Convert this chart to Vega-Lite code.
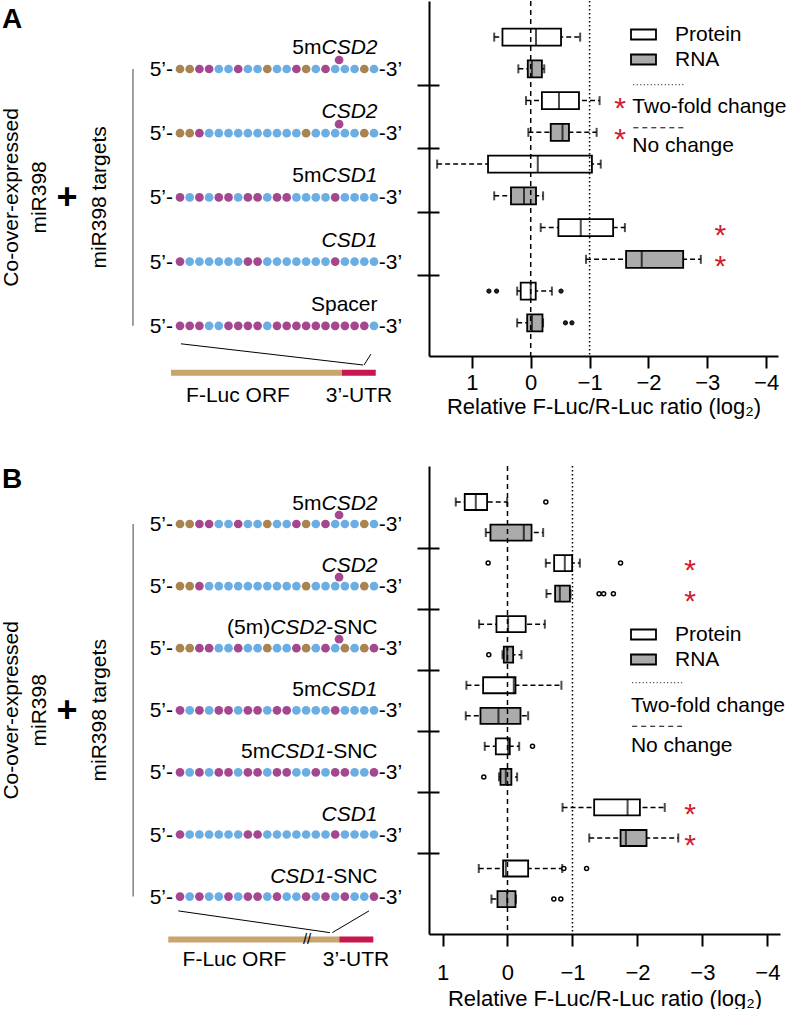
{
"$schema":"https://vega.github.io/schema/vega-lite/v6.json",
"padding":0,
"bounds":"flush",
"columns":2,
"spacing":{"row":110,"column":0},
"resolve":{"scale":{"fill":"independent","color":"independent"},"legend":{"fill":"independent","color":"independent"}},
"config":{"view":{"stroke":null},"font":"Liberation Sans",
 "text":{"font":"Liberation Sans","fontSize":21,"color":"black","baseline":"alphabetic"},
 "axis":{"domainColor":"black","tickColor":"black","labelColor":"black","titleColor":"black","grid":false,"domainWidth":2,"tickWidth":2,"labelFont":"Liberation Sans","titleFont":"Liberation Sans","titleFontWeight":"normal"}},
"datasets":{
"seq":[
{"p":"A","g":0,"i":0,"n":"T"},{"p":"A","g":0,"i":1,"n":"T"},{"p":"A","g":0,"i":2,"n":"M"},{"p":"A","g":0,"i":3,"n":"M"},{"p":"A","g":0,"i":4,"n":"B"},{"p":"A","g":0,"i":5,"n":"B"},{"p":"A","g":0,"i":6,"n":"M"},{"p":"A","g":0,"i":7,"n":"B"},{"p":"A","g":0,"i":8,"n":"B"},{"p":"A","g":0,"i":9,"n":"T"},{"p":"A","g":0,"i":10,"n":"B"},{"p":"A","g":0,"i":11,"n":"B"},{"p":"A","g":0,"i":12,"n":"M"},{"p":"A","g":0,"i":13,"n":"T"},{"p":"A","g":0,"i":14,"n":"B"},{"p":"A","g":0,"i":15,"n":"M"},{"p":"A","g":0,"i":16,"n":"B"},{"p":"A","g":0,"i":17,"n":"B"},{"p":"A","g":0,"i":18,"n":"B"},{"p":"A","g":0,"i":19,"n":"T"},{"p":"A","g":0,"i":20,"n":"B"},
{"p":"A","g":1,"i":0,"n":"T"},{"p":"A","g":1,"i":1,"n":"T"},{"p":"A","g":1,"i":2,"n":"M"},{"p":"A","g":1,"i":3,"n":"B"},{"p":"A","g":1,"i":4,"n":"B"},{"p":"A","g":1,"i":5,"n":"B"},{"p":"A","g":1,"i":6,"n":"B"},{"p":"A","g":1,"i":7,"n":"B"},{"p":"A","g":1,"i":8,"n":"B"},{"p":"A","g":1,"i":9,"n":"B"},{"p":"A","g":1,"i":10,"n":"B"},{"p":"A","g":1,"i":11,"n":"B"},{"p":"A","g":1,"i":12,"n":"B"},{"p":"A","g":1,"i":13,"n":"T"},{"p":"A","g":1,"i":14,"n":"B"},{"p":"A","g":1,"i":15,"n":"B"},{"p":"A","g":1,"i":16,"n":"B"},{"p":"A","g":1,"i":17,"n":"B"},{"p":"A","g":1,"i":18,"n":"B"},{"p":"A","g":1,"i":19,"n":"T"},{"p":"A","g":1,"i":20,"n":"B"},
{"p":"A","g":2,"i":0,"n":"M"},{"p":"A","g":2,"i":1,"n":"B"},{"p":"A","g":2,"i":2,"n":"M"},{"p":"A","g":2,"i":3,"n":"B"},{"p":"A","g":2,"i":4,"n":"M"},{"p":"A","g":2,"i":5,"n":"M"},{"p":"A","g":2,"i":6,"n":"B"},{"p":"A","g":2,"i":7,"n":"M"},{"p":"A","g":2,"i":8,"n":"M"},{"p":"A","g":2,"i":9,"n":"B"},{"p":"A","g":2,"i":10,"n":"M"},{"p":"A","g":2,"i":11,"n":"M"},{"p":"A","g":2,"i":12,"n":"B"},{"p":"A","g":2,"i":13,"n":"B"},{"p":"A","g":2,"i":14,"n":"B"},{"p":"A","g":2,"i":15,"n":"B"},{"p":"A","g":2,"i":16,"n":"M"},{"p":"A","g":2,"i":17,"n":"B"},{"p":"A","g":2,"i":18,"n":"B"},{"p":"A","g":2,"i":19,"n":"B"},{"p":"A","g":2,"i":20,"n":"B"},
{"p":"A","g":3,"i":0,"n":"M"},{"p":"A","g":3,"i":1,"n":"B"},{"p":"A","g":3,"i":2,"n":"B"},{"p":"A","g":3,"i":3,"n":"B"},{"p":"A","g":3,"i":4,"n":"B"},{"p":"A","g":3,"i":5,"n":"B"},{"p":"A","g":3,"i":6,"n":"B"},{"p":"A","g":3,"i":7,"n":"M"},{"p":"A","g":3,"i":8,"n":"M"},{"p":"A","g":3,"i":9,"n":"B"},{"p":"A","g":3,"i":10,"n":"B"},{"p":"A","g":3,"i":11,"n":"B"},{"p":"A","g":3,"i":12,"n":"B"},{"p":"A","g":3,"i":13,"n":"B"},{"p":"A","g":3,"i":14,"n":"B"},{"p":"A","g":3,"i":15,"n":"B"},{"p":"A","g":3,"i":16,"n":"M"},{"p":"A","g":3,"i":17,"n":"B"},{"p":"A","g":3,"i":18,"n":"B"},{"p":"A","g":3,"i":19,"n":"B"},{"p":"A","g":3,"i":20,"n":"B"},
{"p":"A","g":4,"i":0,"n":"M"},{"p":"A","g":4,"i":1,"n":"M"},{"p":"A","g":4,"i":2,"n":"M"},{"p":"A","g":4,"i":3,"n":"B"},{"p":"A","g":4,"i":4,"n":"B"},{"p":"A","g":4,"i":5,"n":"M"},{"p":"A","g":4,"i":6,"n":"M"},{"p":"A","g":4,"i":7,"n":"M"},{"p":"A","g":4,"i":8,"n":"M"},{"p":"A","g":4,"i":9,"n":"B"},{"p":"A","g":4,"i":10,"n":"M"},{"p":"A","g":4,"i":11,"n":"M"},{"p":"A","g":4,"i":12,"n":"M"},{"p":"A","g":4,"i":13,"n":"M"},{"p":"A","g":4,"i":14,"n":"M"},{"p":"A","g":4,"i":15,"n":"M"},{"p":"A","g":4,"i":16,"n":"M"},{"p":"A","g":4,"i":17,"n":"M"},{"p":"A","g":4,"i":18,"n":"M"},{"p":"A","g":4,"i":19,"n":"M"},{"p":"A","g":4,"i":20,"n":"B"},
{"p":"B","g":0,"i":0,"n":"T"},{"p":"B","g":0,"i":1,"n":"T"},{"p":"B","g":0,"i":2,"n":"M"},{"p":"B","g":0,"i":3,"n":"M"},{"p":"B","g":0,"i":4,"n":"B"},{"p":"B","g":0,"i":5,"n":"B"},{"p":"B","g":0,"i":6,"n":"M"},{"p":"B","g":0,"i":7,"n":"B"},{"p":"B","g":0,"i":8,"n":"B"},{"p":"B","g":0,"i":9,"n":"T"},{"p":"B","g":0,"i":10,"n":"B"},{"p":"B","g":0,"i":11,"n":"B"},{"p":"B","g":0,"i":12,"n":"M"},{"p":"B","g":0,"i":13,"n":"T"},{"p":"B","g":0,"i":14,"n":"B"},{"p":"B","g":0,"i":15,"n":"M"},{"p":"B","g":0,"i":16,"n":"B"},{"p":"B","g":0,"i":17,"n":"B"},{"p":"B","g":0,"i":18,"n":"B"},{"p":"B","g":0,"i":19,"n":"T"},{"p":"B","g":0,"i":20,"n":"B"},
{"p":"B","g":1,"i":0,"n":"T"},{"p":"B","g":1,"i":1,"n":"T"},{"p":"B","g":1,"i":2,"n":"M"},{"p":"B","g":1,"i":3,"n":"B"},{"p":"B","g":1,"i":4,"n":"B"},{"p":"B","g":1,"i":5,"n":"B"},{"p":"B","g":1,"i":6,"n":"B"},{"p":"B","g":1,"i":7,"n":"B"},{"p":"B","g":1,"i":8,"n":"B"},{"p":"B","g":1,"i":9,"n":"B"},{"p":"B","g":1,"i":10,"n":"B"},{"p":"B","g":1,"i":11,"n":"B"},{"p":"B","g":1,"i":12,"n":"B"},{"p":"B","g":1,"i":13,"n":"T"},{"p":"B","g":1,"i":14,"n":"B"},{"p":"B","g":1,"i":15,"n":"B"},{"p":"B","g":1,"i":16,"n":"B"},{"p":"B","g":1,"i":17,"n":"B"},{"p":"B","g":1,"i":18,"n":"B"},{"p":"B","g":1,"i":19,"n":"T"},{"p":"B","g":1,"i":20,"n":"B"},
{"p":"B","g":2,"i":0,"n":"T"},{"p":"B","g":2,"i":1,"n":"T"},{"p":"B","g":2,"i":2,"n":"M"},{"p":"B","g":2,"i":3,"n":"M"},{"p":"B","g":2,"i":4,"n":"B"},{"p":"B","g":2,"i":5,"n":"B"},{"p":"B","g":2,"i":6,"n":"M"},{"p":"B","g":2,"i":7,"n":"B"},{"p":"B","g":2,"i":8,"n":"B"},{"p":"B","g":2,"i":9,"n":"T"},{"p":"B","g":2,"i":10,"n":"B"},{"p":"B","g":2,"i":11,"n":"B"},{"p":"B","g":2,"i":12,"n":"M"},{"p":"B","g":2,"i":13,"n":"T"},{"p":"B","g":2,"i":14,"n":"B"},{"p":"B","g":2,"i":15,"n":"M"},{"p":"B","g":2,"i":16,"n":"B"},{"p":"B","g":2,"i":17,"n":"T"},{"p":"B","g":2,"i":18,"n":"B"},{"p":"B","g":2,"i":19,"n":"T"},{"p":"B","g":2,"i":20,"n":"M"},
{"p":"B","g":3,"i":0,"n":"M"},{"p":"B","g":3,"i":1,"n":"B"},{"p":"B","g":3,"i":2,"n":"M"},{"p":"B","g":3,"i":3,"n":"B"},{"p":"B","g":3,"i":4,"n":"M"},{"p":"B","g":3,"i":5,"n":"M"},{"p":"B","g":3,"i":6,"n":"B"},{"p":"B","g":3,"i":7,"n":"M"},{"p":"B","g":3,"i":8,"n":"M"},{"p":"B","g":3,"i":9,"n":"B"},{"p":"B","g":3,"i":10,"n":"M"},{"p":"B","g":3,"i":11,"n":"M"},{"p":"B","g":3,"i":12,"n":"B"},{"p":"B","g":3,"i":13,"n":"B"},{"p":"B","g":3,"i":14,"n":"B"},{"p":"B","g":3,"i":15,"n":"B"},{"p":"B","g":3,"i":16,"n":"M"},{"p":"B","g":3,"i":17,"n":"B"},{"p":"B","g":3,"i":18,"n":"B"},{"p":"B","g":3,"i":19,"n":"B"},{"p":"B","g":3,"i":20,"n":"B"},
{"p":"B","g":4,"i":0,"n":"M"},{"p":"B","g":4,"i":1,"n":"B"},{"p":"B","g":4,"i":2,"n":"M"},{"p":"B","g":4,"i":3,"n":"B"},{"p":"B","g":4,"i":4,"n":"M"},{"p":"B","g":4,"i":5,"n":"M"},{"p":"B","g":4,"i":6,"n":"B"},{"p":"B","g":4,"i":7,"n":"M"},{"p":"B","g":4,"i":8,"n":"M"},{"p":"B","g":4,"i":9,"n":"B"},{"p":"B","g":4,"i":10,"n":"M"},{"p":"B","g":4,"i":11,"n":"M"},{"p":"B","g":4,"i":12,"n":"B"},{"p":"B","g":4,"i":13,"n":"B"},{"p":"B","g":4,"i":14,"n":"M"},{"p":"B","g":4,"i":15,"n":"B"},{"p":"B","g":4,"i":16,"n":"M"},{"p":"B","g":4,"i":17,"n":"M"},{"p":"B","g":4,"i":18,"n":"B"},{"p":"B","g":4,"i":19,"n":"B"},{"p":"B","g":4,"i":20,"n":"M"},
{"p":"B","g":5,"i":0,"n":"M"},{"p":"B","g":5,"i":1,"n":"B"},{"p":"B","g":5,"i":2,"n":"B"},{"p":"B","g":5,"i":3,"n":"B"},{"p":"B","g":5,"i":4,"n":"B"},{"p":"B","g":5,"i":5,"n":"B"},{"p":"B","g":5,"i":6,"n":"B"},{"p":"B","g":5,"i":7,"n":"M"},{"p":"B","g":5,"i":8,"n":"M"},{"p":"B","g":5,"i":9,"n":"B"},{"p":"B","g":5,"i":10,"n":"B"},{"p":"B","g":5,"i":11,"n":"B"},{"p":"B","g":5,"i":12,"n":"B"},{"p":"B","g":5,"i":13,"n":"B"},{"p":"B","g":5,"i":14,"n":"B"},{"p":"B","g":5,"i":15,"n":"B"},{"p":"B","g":5,"i":16,"n":"M"},{"p":"B","g":5,"i":17,"n":"B"},{"p":"B","g":5,"i":18,"n":"B"},{"p":"B","g":5,"i":19,"n":"B"},{"p":"B","g":5,"i":20,"n":"B"},
{"p":"B","g":6,"i":0,"n":"M"},{"p":"B","g":6,"i":1,"n":"B"},{"p":"B","g":6,"i":2,"n":"M"},{"p":"B","g":6,"i":3,"n":"B"},{"p":"B","g":6,"i":4,"n":"B"},{"p":"B","g":6,"i":5,"n":"M"},{"p":"B","g":6,"i":6,"n":"B"},{"p":"B","g":6,"i":7,"n":"M"},{"p":"B","g":6,"i":8,"n":"M"},{"p":"B","g":6,"i":9,"n":"B"},{"p":"B","g":6,"i":10,"n":"M"},{"p":"B","g":6,"i":11,"n":"B"},{"p":"B","g":6,"i":12,"n":"B"},{"p":"B","g":6,"i":13,"n":"M"},{"p":"B","g":6,"i":14,"n":"B"},{"p":"B","g":6,"i":15,"n":"M"},{"p":"B","g":6,"i":16,"n":"B"},{"p":"B","g":6,"i":17,"n":"M"},{"p":"B","g":6,"i":18,"n":"B"},{"p":"B","g":6,"i":19,"n":"B"},{"p":"B","g":6,"i":20,"n":"M"}
],
"bulge":[{"p":"A","g":0,"i":16.4},{"p":"A","g":1,"i":16.4},{"p":"B","g":0,"i":16.4},{"p":"B","g":1,"i":16.4},{"p":"B","g":2,"i":16.4}],
"constructs":[{"p":"A","g":0,"name":"5mCSD2"},{"p":"A","g":1,"name":"CSD2"},{"p":"A","g":2,"name":"5mCSD1"},{"p":"A","g":3,"name":"CSD1"},{"p":"A","g":4,"name":"Spacer"},
{"p":"B","g":0,"name":"5mCSD2"},{"p":"B","g":1,"name":"CSD2"},{"p":"B","g":2,"name":"(5m)CSD2-SNC"},{"p":"B","g":3,"name":"5mCSD1"},{"p":"B","g":4,"name":"5mCSD1-SNC"},{"p":"B","g":5,"name":"CSD1"},{"p":"B","g":6,"name":"CSD1-SNC"}],
"labels":[
{"p":"A","g":0,"slot":"pre1","text":"5m"},{"p":"A","g":0,"slot":"iend","text":"CSD2"},
{"p":"A","g":1,"slot":"iend","text":"CSD2"},
{"p":"A","g":2,"slot":"pre1","text":"5m"},{"p":"A","g":2,"slot":"iend","text":"CSD1"},
{"p":"A","g":3,"slot":"iend","text":"CSD1"},
{"p":"A","g":4,"slot":"end","text":"Spacer"},
{"p":"B","g":0,"slot":"pre1","text":"5m"},{"p":"B","g":0,"slot":"iend","text":"CSD2"},
{"p":"B","g":1,"slot":"iend","text":"CSD2"},
{"p":"B","g":2,"slot":"pre2","text":"(5m)"},{"p":"B","g":2,"slot":"imid","text":"CSD2"},{"p":"B","g":2,"slot":"end","text":"-SNC"},
{"p":"B","g":3,"slot":"pre1","text":"5m"},{"p":"B","g":3,"slot":"iend","text":"CSD1"},
{"p":"B","g":4,"slot":"pre2","text":"5m"},{"p":"B","g":4,"slot":"imid","text":"CSD1"},{"p":"B","g":4,"slot":"end","text":"-SNC"},
{"p":"B","g":5,"slot":"iend","text":"CSD1"},
{"p":"B","g":6,"slot":"imid","text":"CSD1"},{"p":"B","g":6,"slot":"end","text":"-SNC"}
],
"boxes":[
{"panel":"A","row":0,"target":"5mCSD2","type":"Protein","upper":0.62,"q3":0.48,"median":-0.09,"q1":-0.515,"lower":-0.84},
{"panel":"A","row":1,"target":"5mCSD2","type":"RNA","upper":0.21,"q3":0.05,"median":-0.02,"q1":-0.19,"lower":-0.23},
{"panel":"A","row":2,"target":"CSD2","type":"Protein","upper":0.08,"q3":-0.19,"median":-0.48,"q1":-0.82,"lower":-1.17},
{"panel":"A","row":3,"target":"CSD2","type":"RNA","upper":0.04,"q3":-0.34,"median":-0.54,"q1":-0.65,"lower":-1.12},
{"panel":"A","row":4,"target":"5mCSD1","type":"Protein","upper":1.59,"q3":0.725,"median":-0.12,"q1":-1.04,"lower":-1.19},
{"panel":"A","row":5,"target":"5mCSD1","type":"RNA","upper":0.62,"q3":0.335,"median":0.114,"q1":-0.09,"lower":-0.21},
{"panel":"A","row":6,"target":"CSD1","type":"Protein","upper":-0.17,"q3":-0.47,"median":-0.85,"q1":-1.4,"lower":-1.6},
{"panel":"A","row":7,"target":"CSD1","type":"RNA","upper":-0.94,"q3":-1.62,"median":-1.886,"q1":-2.59,"lower":-2.89},
{"panel":"A","row":8,"target":"Spacer","type":"Protein","upper":0.23,"q3":0.17,"median":0.0,"q1":-0.085,"lower":-0.36},
{"panel":"A","row":9,"target":"Spacer","type":"RNA","upper":0.23,"q3":0.06,"median":-0.02,"q1":-0.2,"lower":-0.21},
{"panel":"B","row":0,"target":"5mCSD2","type":"Protein","upper":0.796,"q3":0.658,"median":0.488,"q1":0.314,"lower":0.005},
{"panel":"B","row":1,"target":"5mCSD2","type":"RNA","upper":0.334,"q3":0.262,"median":-0.251,"q1":-0.37,"lower":-0.549},
{"panel":"B","row":2,"target":"CSD2","type":"Protein","upper":-0.59,"q3":-0.718,"median":-0.882,"q1":-0.995,"lower":-1.114},
{"panel":"B","row":3,"target":"CSD2","type":"RNA","upper":-0.6,"q3":-0.733,"median":-0.806,"q1":-0.96,"lower":-0.97},
{"panel":"B","row":4,"target":"(5m)CSD2-SNC","type":"Protein","upper":0.437,"q3":0.17,"median":-0.01,"q1":-0.28,"lower":-0.575},
{"panel":"B","row":5,"target":"(5m)CSD2-SNC","type":"RNA","upper":0.077,"q3":0.057,"median":0.005,"q1":-0.087,"lower":-0.215},
{"panel":"B","row":6,"target":"5mCSD1","type":"Protein","upper":0.632,"q3":0.375,"median":-0.097,"q1":-0.123,"lower":-0.83},
{"panel":"B","row":7,"target":"5mCSD1","type":"RNA","upper":0.642,"q3":0.416,"median":0.139,"q1":-0.2,"lower":-0.318},
{"panel":"B","row":8,"target":"5mCSD1-SNC","type":"Protein","upper":0.35,"q3":0.18,"median":-0.01,"q1":-0.035,"lower":-0.18},
{"panel":"B","row":9,"target":"5mCSD1-SNC","type":"RNA","upper":0.13,"q3":0.108,"median":0.026,"q1":-0.06,"lower":-0.148},
{"panel":"B","row":10,"target":"CSD1","type":"Protein","upper":-0.847,"q3":-1.334,"median":-1.848,"q1":-2.038,"lower":-2.42},
{"panel":"B","row":11,"target":"CSD1","type":"RNA","upper":-1.258,"q3":-1.74,"median":-1.822,"q1":-2.14,"lower":-2.628},
{"panel":"B","row":12,"target":"CSD1-SNC","type":"Protein","upper":0.442,"q3":0.067,"median":0.026,"q1":-0.318,"lower":-0.842},
{"panel":"B","row":13,"target":"CSD1-SNC","type":"RNA","upper":0.247,"q3":0.154,"median":0.006,"q1":-0.123,"lower":-0.13}
],
"outliers":[
{"panel":"A","row":8,"value":0.71},{"panel":"A","row":8,"value":0.58},{"panel":"A","row":8,"value":-0.515},{"panel":"A","row":9,"value":-0.59},{"panel":"A","row":9,"value":-0.7},
{"panel":"B","row":0,"value":-0.59},{"panel":"B","row":2,"value":0.298},{"panel":"B","row":2,"value":-1.74},{"panel":"B","row":3,"value":-1.41},{"panel":"B","row":3,"value":-1.48},{"panel":"B","row":3,"value":-1.63},{"panel":"B","row":5,"value":0.288},{"panel":"B","row":8,"value":-0.385},{"panel":"B","row":9,"value":0.365},{"panel":"B","row":12,"value":-0.867},{"panel":"B","row":12,"value":-1.217},{"panel":"B","row":13,"value":-0.713},{"panel":"B","row":13,"value":-0.821}
],
"stars":[{"panel":"A","row":2,"at":-1.52},{"panel":"A","row":3,"at":-1.52},{"panel":"A","row":6,"at":-3.22},{"panel":"A","row":7,"at":-3.22},
{"panel":"B","row":2,"at":-2.81},{"panel":"B","row":3,"at":-2.81},{"panel":"B","row":10,"at":-2.81},{"panel":"B","row":11,"at":-2.81}]
},
"concat":[
{"width":429,"height":355,
 "layer":[
 {"data":{"values":[{}]},"mark":{"type":"rule","color":"#808080","strokeWidth":1.5},"encoding":{"x":{"datum":-4.85,"type":"quantitative","scale":{"domain":[-18.557,25.67],"nice":false,"zero":false},"axis":null},"y":{"datum":0,"type":"quantitative","scale":{"domain":[-1.059,4.47],"reverse":true,"nice":false,"zero":false},"axis":null},"y2":{"datum":4}}},
 {"data":{"name":"seq"},"transform":[{"filter":"datum.p==='A'"}],"mark":{"type":"circle","size":76,"opacity":1},"encoding":{"x":{"field":"i","type":"quantitative","axis":null},"y":{"field":"g","type":"quantitative","axis":null},"color":{"field":"n","type":"nominal","scale":{"domain":["T","M","B"],"range":["#A8844F","#A4478F","#6BAEE3"]},"legend":null}}},
 {"data":{"name":"bulge"},"transform":[{"filter":"datum.p==='A'"}],"mark":{"type":"circle","size":76,"opacity":1,"color":"#A4478F","yOffset":-9},"encoding":{"x":{"field":"i","type":"quantitative","axis":null},"y":{"field":"g","type":"quantitative","axis":null}}},
 {"data":{"name":"constructs"},"transform":[{"filter":"datum.p==='A'"}],"mark":{"type":"text","text":"5’-","align":"right","dy":7},"encoding":{"x":{"datum":-0.72,"type":"quantitative","axis":null},"y":{"field":"g","type":"quantitative","axis":null}}},
 {"data":{"name":"constructs"},"transform":[{"filter":"datum.p==='A'"}],"mark":{"type":"text","text":"-3’","align":"left","dy":7},"encoding":{"x":{"datum":20.5,"type":"quantitative","axis":null},"y":{"field":"g","type":"quantitative","axis":null}}},
 {"data":{"name":"labels"},"transform":[{"filter":"datum.p==='A' && datum.slot==='iend'"}],"mark":{"type":"text","align":"right","dy":-15,"fontStyle":"italic"},"encoding":{"text":{"field":"text"},"x":{"datum":20.36,"type":"quantitative","axis":null},"y":{"field":"g","type":"quantitative","axis":null}}},
 {"data":{"name":"labels"},"transform":[{"filter":"datum.p==='A' && datum.slot==='end'"}],"mark":{"type":"text","align":"right","dy":-15},"encoding":{"text":{"field":"text"},"x":{"datum":20.36,"type":"quantitative","axis":null},"y":{"field":"g","type":"quantitative","axis":null}}},
 {"data":{"name":"labels"},"transform":[{"filter":"datum.p==='A' && datum.slot==='pre1'"}],"mark":{"type":"text","align":"right","dy":-15,"dx":-56},"encoding":{"text":{"field":"text"},"x":{"datum":20.36,"type":"quantitative","axis":null},"y":{"field":"g","type":"quantitative","axis":null}}},
 {"data":{"values":[{}]},"mark":{"type":"text","text":"A","align":"left","fontSize":28,"fontWeight":"bold"},"encoding":{"x":{"datum":-18.35,"type":"quantitative","axis":null},"y":{"datum":-0.64,"type":"quantitative","axis":null}}},
 {"data":{"values":[{}]},"mark":{"type":"text","text":"Co-over-expressed","align":"center","angle":270},"encoding":{"x":{"datum":-16.7,"type":"quantitative","axis":null},"y":{"datum":2,"type":"quantitative","axis":null}}},
 {"data":{"values":[{}]},"mark":{"type":"text","text":"miR398","align":"center","angle":270},"encoding":{"x":{"datum":-13.8,"type":"quantitative","axis":null},"y":{"datum":2,"type":"quantitative","axis":null}}},
 {"data":{"values":[{}]},"mark":{"type":"text","text":"+","align":"center","fontSize":36,"fontWeight":"bold","dy":12},"encoding":{"x":{"datum":-11.65,"type":"quantitative","axis":null},"y":{"datum":2,"type":"quantitative","axis":null}}},
 {"data":{"values":[{}]},"mark":{"type":"text","text":"miR398 targets","align":"center","angle":270},"encoding":{"x":{"datum":-7.63,"type":"quantitative","axis":null},"y":{"datum":2,"type":"quantitative","axis":null}}},
 {"data":{"values":[{}]},"mark":{"type":"rule","color":"#C8A46E","strokeWidth":6,"strokeCap":"butt"},"encoding":{"x":{"datum":-0.93,"type":"quantitative","axis":null},"x2":{"datum":16.7},"y":{"datum":4.73,"type":"quantitative","axis":null}}},
 {"data":{"values":[{}]},"mark":{"type":"rule","color":"#C8174E","strokeWidth":6,"strokeCap":"butt"},"encoding":{"x":{"datum":16.7,"type":"quantitative","axis":null},"x2":{"datum":20.18},"y":{"datum":4.73,"type":"quantitative","axis":null}}},
 {"data":{"values":[{}]},"mark":{"type":"rule","color":"black","strokeWidth":1},"encoding":{"x":{"datum":0.1,"type":"quantitative","axis":null},"x2":{"datum":18.87},"y":{"datum":4.28,"type":"quantitative","axis":null},"y2":{"datum":4.61}}},
 {"data":{"values":[{}]},"mark":{"type":"rule","color":"black","strokeWidth":1},"encoding":{"x":{"datum":19.69,"type":"quantitative","axis":null},"x2":{"datum":18.97},"y":{"datum":4.44,"type":"quantitative","axis":null},"y2":{"datum":4.61}}},
 {"data":{"values":[{}]},"mark":{"type":"text","text":"F-Luc ORF","align":"center"},"encoding":{"x":{"datum":5.98,"type":"quantitative","axis":null},"y":{"datum":5.18,"type":"quantitative","axis":null}}},
 {"data":{"values":[{}]},"mark":{"type":"text","text":"3’-UTR","align":"center"},"encoding":{"x":{"datum":18.45,"type":"quantitative","axis":null},"y":{"datum":5.18,"type":"quantitative","axis":null}}}
 ]},
{"width":349,"height":355,
 "data":{"name":"boxes"},"transform":[{"filter":"datum.panel==='A'"}],
 "resolve":{"axis":{"y":"independent"}},
 "layer":[
 {"mark":{"type":"rule","strokeDash":[5,3],"strokeWidth":1.5,"color":"black"},"encoding":{
   "x":{"field":"upper","type":"quantitative","scale":{"domain":[-4.201,1.728],"reverse":true,"nice":false,"zero":false},"axis":{"values":[1,0,-1,-2,-3,-4],"format":"d","title":"Relative F-Luc/R-Luc ratio (log₂)","tickSize":12,"labelFontSize":22,"labelPadding":4,"titleFontSize":22,"titlePadding":3}},
   "x2":{"field":"lower"},
   "y":{"field":"row","type":"quantitative","scale":{"domain":[-0.98,9.887],"reverse":true,"nice":false,"zero":false},"axis":{"values":[1.5,3.5,5.5,7.5],"labels":false,"tickSize":12,"title":null}}}},
 {"mark":{"type":"tick","orient":"vertical","size":9,"thickness":2,"color":"black"},"encoding":{"x":{"field":"upper","type":"quantitative"},"y":{"field":"row","type":"quantitative","axis":{"orient":"left","values":[1.5,3.5,5.5,7.5],"labels":false,"tickSize":-10,"domain":false,"title":null}}}},
 {"mark":{"type":"tick","orient":"vertical","size":9,"thickness":2,"color":"black"},"encoding":{"x":{"field":"lower","type":"quantitative"},"y":{"field":"row","type":"quantitative","axis":null}}},
 {"mark":{"type":"bar","orient":"horizontal","size":17,"stroke":"black","strokeWidth":1.8},"encoding":{"x":{"field":"q3","type":"quantitative"},"x2":{"field":"q1"},"y":{"field":"row","type":"quantitative","axis":null},
   "fill":{"field":"type","type":"nominal","scale":{"domain":["Protein","RNA"],"range":["#ffffff","#ababab"]},"legend":{"orient":"none","legendX":201,"legendY":20,"title":null,"symbolType":"M-1,-0.4H1V0.4H-1Z","symbolSize":625,"symbolStrokeColor":"black","symbolStrokeWidth":1.8,"labelFontSize":21,"labelFont":"Liberation Sans","labelColor":"black","labelOffset":18,"rowPadding":1,"padding":0}}}},
 {"mark":{"type":"tick","orient":"vertical","size":17,"thickness":2,"color":"black"},"encoding":{"x":{"field":"median","type":"quantitative"},"y":{"field":"row","type":"quantitative","axis":null}}},
 {"data":{"name":"outliers"},"transform":[{"filter":"datum.panel==='A'"}],"mark":{"type":"point","shape":"circle","size":18,"filled":true,"fill":"#222222","stroke":"black","strokeWidth":1,"opacity":1},"encoding":{"x":{"field":"value","type":"quantitative"},"y":{"field":"row","type":"quantitative","axis":null}}},
 {"data":{"values":[{}]},"mark":{"type":"rule","strokeDash":[5,4],"strokeWidth":1.5,"color":"black"},"encoding":{"x":{"datum":0,"type":"quantitative"}}},
 {"data":{"values":[{}]},"mark":{"type":"rule","strokeDash":[1.5,2.5],"strokeWidth":1.5,"color":"black"},"encoding":{"x":{"datum":-1,"type":"quantitative"}}},
 {"data":{"name":"stars"},"transform":[{"filter":"datum.panel==='A'"}],"mark":{"type":"text","text":"*","fontSize":30,"color":"#D0202E","dy":17,"align":"center"},"encoding":{"x":{"field":"at","type":"quantitative"},"y":{"field":"row","type":"quantitative","axis":null}}},
 {"data":{"values":[{}]},"mark":{"type":"rule","strokeDash":[1,2.5],"strokeWidth":1,"color":"black"},"encoding":{"x":{"datum":-1.743,"type":"quantitative"},"x2":{"datum":-2.605},"y":{"datum":1.5,"type":"quantitative","axis":null}}},
 {"data":{"values":[{}]},"mark":{"type":"rule","strokeDash":[5,4],"strokeWidth":1,"color":"black"},"encoding":{"x":{"datum":-1.743,"type":"quantitative"},"x2":{"datum":-2.605},"y":{"datum":2.856,"type":"quantitative","axis":null}}},
 {"data":{"values":[{}]},"mark":{"type":"text","text":"Two-fold change","align":"left"},"encoding":{"x":{"datum":-1.726,"type":"quantitative"},"y":{"datum":2.387,"type":"quantitative","axis":null}}},
 {"data":{"values":[{}]},"mark":{"type":"text","text":"No change","align":"left"},"encoding":{"x":{"datum":-1.726,"type":"quantitative"},"y":{"datum":3.633,"type":"quantitative","axis":null}}}
 ]},
{"width":429,"height":468,
 "layer":[
 {"data":{"values":[{}]},"mark":{"type":"rule","color":"#808080","strokeWidth":1.5},"encoding":{"x":{"datum":-4.83,"type":"quantitative","scale":{"domain":[-18.557,25.67],"nice":false,"zero":false},"axis":null},"y":{"datum":0,"type":"quantitative","scale":{"domain":[-0.934,6.602],"reverse":true,"nice":false,"zero":false},"axis":null},"y2":{"datum":6}}},
 {"data":{"name":"seq"},"transform":[{"filter":"datum.p==='B'"}],"mark":{"type":"circle","size":76,"opacity":1},"encoding":{"x":{"field":"i","type":"quantitative","axis":null},"y":{"field":"g","type":"quantitative","axis":null},"color":{"field":"n","type":"nominal","scale":{"domain":["T","M","B"],"range":["#A8844F","#A4478F","#6BAEE3"]},"legend":null}}},
 {"data":{"name":"bulge"},"transform":[{"filter":"datum.p==='B'"}],"mark":{"type":"circle","size":76,"opacity":1,"color":"#A4478F","yOffset":-9},"encoding":{"x":{"field":"i","type":"quantitative","axis":null},"y":{"field":"g","type":"quantitative","axis":null}}},
 {"data":{"name":"constructs"},"transform":[{"filter":"datum.p==='B'"}],"mark":{"type":"text","text":"5’-","align":"right","dy":7},"encoding":{"x":{"datum":-0.72,"type":"quantitative","axis":null},"y":{"field":"g","type":"quantitative","axis":null}}},
 {"data":{"name":"constructs"},"transform":[{"filter":"datum.p==='B'"}],"mark":{"type":"text","text":"-3’","align":"left","dy":7},"encoding":{"x":{"datum":20.5,"type":"quantitative","axis":null},"y":{"field":"g","type":"quantitative","axis":null}}},
 {"data":{"name":"labels"},"transform":[{"filter":"datum.p==='B' && datum.slot==='iend'"}],"mark":{"type":"text","align":"right","dy":-14,"fontStyle":"italic"},"encoding":{"text":{"field":"text"},"x":{"datum":20.36,"type":"quantitative","axis":null},"y":{"field":"g","type":"quantitative","axis":null}}},
 {"data":{"name":"labels"},"transform":[{"filter":"datum.p==='B' && datum.slot==='end'"}],"mark":{"type":"text","align":"right","dy":-14},"encoding":{"text":{"field":"text"},"x":{"datum":20.36,"type":"quantitative","axis":null},"y":{"field":"g","type":"quantitative","axis":null}}},
 {"data":{"name":"labels"},"transform":[{"filter":"datum.p==='B' && datum.slot==='imid'"}],"mark":{"type":"text","align":"right","dy":-14,"dx":-51.3,"fontStyle":"italic"},"encoding":{"text":{"field":"text"},"x":{"datum":20.36,"type":"quantitative","axis":null},"y":{"field":"g","type":"quantitative","axis":null}}},
 {"data":{"name":"labels"},"transform":[{"filter":"datum.p==='B' && datum.slot==='pre1'"}],"mark":{"type":"text","align":"right","dy":-14,"dx":-56},"encoding":{"text":{"field":"text"},"x":{"datum":20.36,"type":"quantitative","axis":null},"y":{"field":"g","type":"quantitative","axis":null}}},
 {"data":{"name":"labels"},"transform":[{"filter":"datum.p==='B' && datum.slot==='pre2'"}],"mark":{"type":"text","align":"right","dy":-14,"dx":-107.3},"encoding":{"text":{"field":"text"},"x":{"datum":20.36,"type":"quantitative","axis":null},"y":{"field":"g","type":"quantitative","axis":null}}},
 {"data":{"values":[{}]},"mark":{"type":"text","text":"B","align":"left","fontSize":28,"fontWeight":"bold"},"encoding":{"x":{"datum":-18.35,"type":"quantitative","axis":null},"y":{"datum":-0.58,"type":"quantitative","axis":null}}},
 {"data":{"values":[{}]},"mark":{"type":"text","text":"Co-over-expressed","align":"center","angle":270},"encoding":{"x":{"datum":-16.7,"type":"quantitative","axis":null},"y":{"datum":3,"type":"quantitative","axis":null}}},
 {"data":{"values":[{}]},"mark":{"type":"text","text":"miR398","align":"center","angle":270},"encoding":{"x":{"datum":-13.8,"type":"quantitative","axis":null},"y":{"datum":3,"type":"quantitative","axis":null}}},
 {"data":{"values":[{}]},"mark":{"type":"text","text":"+","align":"center","fontSize":36,"fontWeight":"bold","dy":12},"encoding":{"x":{"datum":-11.65,"type":"quantitative","axis":null},"y":{"datum":3,"type":"quantitative","axis":null}}},
 {"data":{"values":[{}]},"mark":{"type":"text","text":"miR398 targets","align":"center","angle":270},"encoding":{"x":{"datum":-7.63,"type":"quantitative","axis":null},"y":{"datum":3,"type":"quantitative","axis":null}}},
 {"data":{"values":[{}]},"mark":{"type":"rule","color":"#C8A46E","strokeWidth":6,"strokeCap":"butt"},"encoding":{"x":{"datum":-1.21,"type":"quantitative","axis":null},"x2":{"datum":16.42},"y":{"datum":6.69,"type":"quantitative","axis":null}}},
 {"data":{"values":[{}]},"mark":{"type":"rule","color":"#C8174E","strokeWidth":6,"strokeCap":"butt"},"encoding":{"x":{"datum":16.42,"type":"quantitative","axis":null},"x2":{"datum":19.93},"y":{"datum":6.69,"type":"quantitative","axis":null}}},
 {"data":{"values":[{}]},"mark":{"type":"text","text":"//","align":"center","fontSize":15,"dy":5},"encoding":{"x":{"datum":13.1,"type":"quantitative","axis":null},"y":{"datum":6.69,"type":"quantitative","axis":null}}},
 {"data":{"values":[{}]},"mark":{"type":"rule","color":"black","strokeWidth":1},"encoding":{"x":{"datum":-0.18,"type":"quantitative","axis":null},"x2":{"datum":15.46},"y":{"datum":6.23,"type":"quantitative","axis":null},"y2":{"datum":6.58}}},
 {"data":{"values":[{}]},"mark":{"type":"rule","color":"black","strokeWidth":1},"encoding":{"x":{"datum":19.48,"type":"quantitative","axis":null},"x2":{"datum":15.7},"y":{"datum":6.23,"type":"quantitative","axis":null},"y2":{"datum":6.58}}},
 {"data":{"values":[{}]},"mark":{"type":"text","text":"F-Luc ORF","align":"center"},"encoding":{"x":{"datum":5.62,"type":"quantitative","axis":null},"y":{"datum":7.118,"type":"quantitative","axis":null}}},
 {"data":{"values":[{}]},"mark":{"type":"text","text":"3’-UTR","align":"center"},"encoding":{"x":{"datum":18.14,"type":"quantitative","axis":null},"y":{"datum":7.118,"type":"quantitative","axis":null}}}
 ]},
{"width":351,"height":468,
 "data":{"name":"boxes"},"transform":[{"filter":"datum.panel==='B'"}],
 "resolve":{"axis":{"y":"independent"}},
 "layer":[
 {"mark":{"type":"rule","strokeDash":[5,3],"strokeWidth":1.5,"color":"black"},"encoding":{
   "x":{"field":"upper","type":"quantitative","scale":{"domain":[-4.194,1.208],"reverse":true,"nice":false,"zero":false},"axis":{"values":[1,0,-1,-2,-3,-4],"format":"d","title":"Relative F-Luc/R-Luc ratio (log₂)","tickSize":12,"labelFontSize":22,"labelPadding":16,"titleFontSize":22,"titlePadding":5}},
   "x2":{"field":"lower"},
   "y":{"field":"row","type":"quantitative","scale":{"domain":[-1.015,13.98],"reverse":true,"nice":false,"zero":false},"axis":{"values":[1.5,3.5,5.5,7.5,9.5,11.5],"labels":false,"tickSize":12,"title":null}}}},
 {"mark":{"type":"tick","orient":"vertical","size":9,"thickness":2,"color":"black"},"encoding":{"x":{"field":"upper","type":"quantitative"},"y":{"field":"row","type":"quantitative","axis":{"orient":"left","values":[1.5,3.5,5.5,7.5,9.5,11.5],"labels":false,"tickSize":-10,"domain":false,"title":null}}}},
 {"mark":{"type":"tick","orient":"vertical","size":9,"thickness":2,"color":"black"},"encoding":{"x":{"field":"lower","type":"quantitative"},"y":{"field":"row","type":"quantitative","axis":null}}},
 {"mark":{"type":"bar","orient":"horizontal","size":16,"stroke":"black","strokeWidth":1.8},"encoding":{"x":{"field":"q3","type":"quantitative"},"x2":{"field":"q1"},"y":{"field":"row","type":"quantitative","axis":null},
   "fill":{"field":"type","type":"nominal","scale":{"domain":["Protein","RNA"],"range":["#ffffff","#ababab"]},"legend":{"orient":"none","legendX":201,"legendY":155,"title":null,"symbolType":"M-1,-0.4H1V0.4H-1Z","symbolSize":625,"symbolStrokeColor":"black","symbolStrokeWidth":1.8,"labelFontSize":21,"labelFont":"Liberation Sans","labelColor":"black","labelOffset":18,"rowPadding":1,"padding":0}}}},
 {"mark":{"type":"tick","orient":"vertical","size":16,"thickness":2,"color":"black"},"encoding":{"x":{"field":"median","type":"quantitative"},"y":{"field":"row","type":"quantitative","axis":null}}},
 {"data":{"name":"outliers"},"transform":[{"filter":"datum.panel==='B'"}],"mark":{"type":"point","shape":"circle","size":16,"filled":true,"fill":"white","stroke":"black","strokeWidth":1.5,"opacity":1},"encoding":{"x":{"field":"value","type":"quantitative"},"y":{"field":"row","type":"quantitative","axis":null}}},
 {"data":{"values":[{}]},"mark":{"type":"rule","strokeDash":[5,4],"strokeWidth":1.5,"color":"black"},"encoding":{"x":{"datum":0,"type":"quantitative"}}},
 {"data":{"values":[{}]},"mark":{"type":"rule","strokeDash":[1.5,2.5],"strokeWidth":1.5,"color":"black"},"encoding":{"x":{"datum":-1,"type":"quantitative"}}},
 {"data":{"name":"stars"},"transform":[{"filter":"datum.panel==='B'"}],"mark":{"type":"text","text":"*","fontSize":30,"color":"#D0202E","dy":17,"align":"center"},"encoding":{"x":{"field":"at","type":"quantitative"},"y":{"field":"row","type":"quantitative","axis":null}}},
 {"data":{"values":[{}]},"mark":{"type":"rule","strokeDash":[1,2.5],"strokeWidth":1,"color":"black"},"encoding":{"x":{"datum":-1.919,"type":"quantitative"},"x2":{"datum":-2.716},"y":{"datum":5.916,"type":"quantitative","axis":null}}},
 {"data":{"values":[{}]},"mark":{"type":"rule","strokeDash":[5,4],"strokeWidth":1,"color":"black"},"encoding":{"x":{"datum":-1.919,"type":"quantitative"},"x2":{"datum":-2.716},"y":{"datum":7.342,"type":"quantitative","axis":null}}},
 {"data":{"values":[{}]},"mark":{"type":"text","text":"Two-fold change","align":"left"},"encoding":{"x":{"datum":-1.9,"type":"quantitative"},"y":{"datum":6.884,"type":"quantitative","axis":null}}},
 {"data":{"values":[{}]},"mark":{"type":"text","text":"No change","align":"left"},"encoding":{"x":{"datum":-1.9,"type":"quantitative"},"y":{"datum":8.197,"type":"quantitative","axis":null}}}
 ]}
]
}
